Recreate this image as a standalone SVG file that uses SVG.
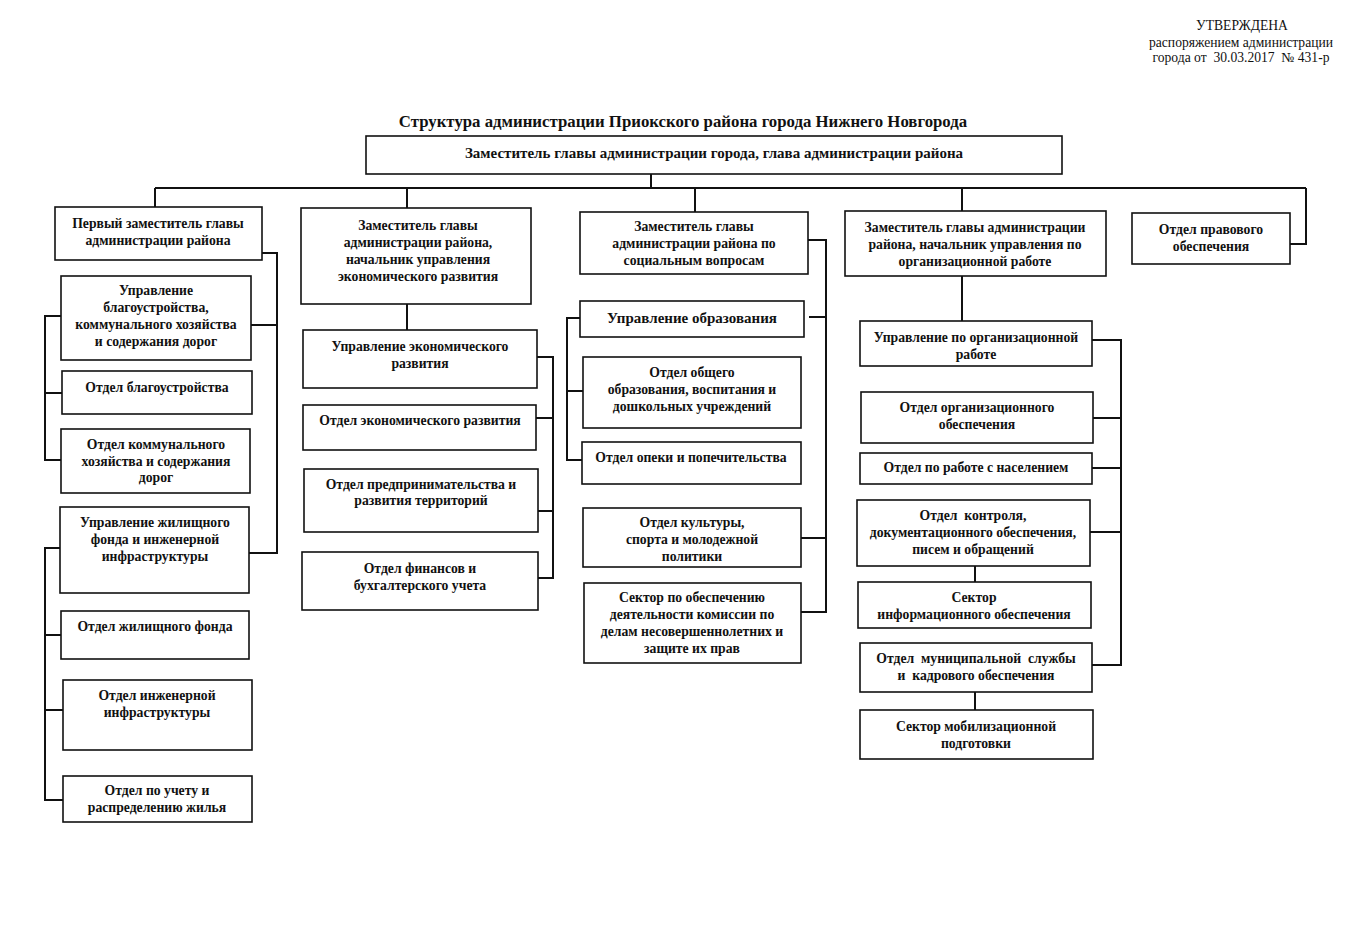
<svg xmlns="http://www.w3.org/2000/svg" width="1354" height="941" viewBox="0 0 1354 941">
<style>
.b{fill:#fff;stroke:#111;stroke-width:1.6}
.t{font-family:"Liberation Serif","Times New Roman",serif;font-weight:bold;font-size:13.7px;fill:#111;text-anchor:middle;dominant-baseline:central;white-space:pre}
.h{font-family:"Liberation Serif","Times New Roman",serif;font-size:13.6px;fill:#111;text-anchor:middle;dominant-baseline:central;white-space:pre}
.c{fill:none;stroke:#111;stroke-width:2}
</style>
<rect width="1354" height="941" fill="#fff"/>
<g id="header">
<text class="h" x="1242" y="25">УТВЕРЖДЕНА</text>
<text class="h" x="1241" y="42">распоряжением администрации</text>
<text class="h" x="1241" y="57">города от  30.03.2017  № 431-р</text>
</g>
<text id="title" x="683" y="121" style="font-family:'Liberation Serif','Times New Roman',serif;font-weight:bold;font-size:16.8px;fill:#111;text-anchor:middle;dominant-baseline:central">Структура администрации Приокского района города Нижнего Новгорода</text>
<g id="connectors">
<path class="c" d="M651 174V188M155 188H1306M155 188V208M407 188V208M695 188V212M962 188V211M1306 188V244H1290"/>
<path class="c" d="M262 253H277V553H249M251 325H277"/>
<path class="c" d="M61 316H45V460H61M45 393H62"/>
<path class="c" d="M60 548H45V800H63M45 635H61M45 710H63"/>
<path class="c" d="M407 304V330"/>
<path class="c" d="M537 357H553V578H538M536 418H553M538 511H553"/>
<path class="c" d="M808 240H826V612H801M809 317H826M801 538H826"/>
<path class="c" d="M580 318H567V460H582M567 391H583"/>
<path class="c" d="M962 276V321"/>
<path class="c" d="M1092 340H1121V665H1092M1093 418H1121M1092 468H1121M1090 532H1121"/>
<path class="c" d="M975 566V582M975 692V710"/>
</g>
<g id="n-top"><rect class="b" x="366" y="136" width="696" height="38"/><text class="t" x="714" y="153" style="font-size:15px">Заместитель главы администрации города, глава администрации района</text></g>
<g id="n-first"><rect class="b" x="55" y="207" width="207" height="53"/><text class="t" x="158" y="223">Первый заместитель главы</text><text class="t" x="158" y="240">администрации района</text></g>
<g id="n-econ-dep"><rect class="b" x="301" y="208" width="230" height="96"/><text class="t" x="418" y="225">Заместитель главы</text><text class="t" x="418" y="242">администрации района,</text><text class="t" x="418" y="259">начальник управления</text><text class="t" x="418" y="276">экономического развития</text></g>
<g id="n-soc-dep"><rect class="b" x="580" y="212" width="228" height="62"/><text class="t" x="694" y="226">Заместитель главы</text><text class="t" x="694" y="243">администрации района по</text><text class="t" x="694" y="260">социальным вопросам</text></g>
<g id="n-org-dep"><rect class="b" x="845" y="211" width="261" height="65"/><text class="t" x="975" y="227">Заместитель главы администрации</text><text class="t" x="975" y="244">района, начальник управления по</text><text class="t" x="975" y="261">организационной работе</text></g>
<g id="n-legal"><rect class="b" x="1132" y="213" width="158" height="51"/><text class="t" x="1211" y="229">Отдел правового</text><text class="t" x="1211" y="246">обеспечения</text></g>
<g id="n-blag-upr"><rect class="b" x="61" y="276" width="190" height="84"/><text class="t" x="156" y="290">Управление</text><text class="t" x="156" y="307">благоустройства,</text><text class="t" x="156" y="324">коммунального хозяйства</text><text class="t" x="156" y="341">и содержания дорог</text></g>
<g id="n-blag"><rect class="b" x="62" y="371" width="190" height="43"/><text class="t" x="157" y="387">Отдел благоустройства</text></g>
<g id="n-komm"><rect class="b" x="61" y="429" width="189" height="64"/><text class="t" x="156" y="444">Отдел коммунального</text><text class="t" x="156" y="461">хозяйства и содержания</text><text class="t" x="156" y="477">дорог</text></g>
<g id="n-zhil-upr"><rect class="b" x="60" y="507" width="189" height="86"/><text class="t" x="155" y="522">Управление жилищного</text><text class="t" x="155" y="539">фонда и инженерной</text><text class="t" x="155" y="556">инфраструктуры</text></g>
<g id="n-zhil"><rect class="b" x="61" y="611" width="188" height="48"/><text class="t" x="155" y="626">Отдел жилищного фонда</text></g>
<g id="n-inzh"><rect class="b" x="63" y="680" width="189" height="70"/><text class="t" x="157" y="695">Отдел инженерной</text><text class="t" x="157" y="712">инфраструктуры</text></g>
<g id="n-uchet"><rect class="b" x="63" y="776" width="189" height="46"/><text class="t" x="157" y="790">Отдел по учету и</text><text class="t" x="157" y="807">распределению жилья</text></g>
<g id="n-econ-upr"><rect class="b" x="303" y="330" width="234" height="58"/><text class="t" x="420" y="346">Управление экономического</text><text class="t" x="420" y="363">развития</text></g>
<g id="n-econ"><rect class="b" x="303" y="405" width="233" height="45"/><text class="t" x="420" y="420">Отдел экономического развития</text></g>
<g id="n-predpr"><rect class="b" x="304" y="469" width="234" height="63"/><text class="t" x="421" y="484">Отдел предпринимательства и</text><text class="t" x="421" y="500">развития территорий</text></g>
<g id="n-fin"><rect class="b" x="302" y="552" width="236" height="58"/><text class="t" x="420" y="568">Отдел финансов и</text><text class="t" x="420" y="585">бухгалтерского учета</text></g>
<g id="n-obr-upr"><rect class="b" x="580" y="301" width="224" height="36"/><text class="t" x="692" y="318" style="font-size:15px">Управление образования</text></g>
<g id="n-obr"><rect class="b" x="583" y="357" width="218" height="71"/><text class="t" x="692" y="372">Отдел общего</text><text class="t" x="692" y="389">образования, воспитания и</text><text class="t" x="692" y="406">дошкольных учреждений</text></g>
<g id="n-opeka"><rect class="b" x="582" y="442" width="219" height="42"/><text class="t" x="691" y="457">Отдел опеки и попечительства</text></g>
<g id="n-kult"><rect class="b" x="583" y="508" width="218" height="59"/><text class="t" x="692" y="522">Отдел культуры,</text><text class="t" x="692" y="539">спорта и молодежной</text><text class="t" x="692" y="556">политики</text></g>
<g id="n-kdn"><rect class="b" x="584" y="583" width="217" height="80"/><text class="t" x="692" y="597">Сектор по обеспечению</text><text class="t" x="692" y="614">деятельности комиссии по</text><text class="t" x="692" y="631">делам несовершеннолетних и</text><text class="t" x="692" y="648">защите их прав</text></g>
<g id="n-org-upr"><rect class="b" x="860" y="321" width="232" height="45"/><text class="t" x="976" y="337">Управление по организационной</text><text class="t" x="976" y="354">работе</text></g>
<g id="n-org"><rect class="b" x="861" y="392" width="232" height="51"/><text class="t" x="977" y="407">Отдел организационного</text><text class="t" x="977" y="424">обеспечения</text></g>
<g id="n-nasel"><rect class="b" x="860" y="453" width="232" height="31"/><text class="t" x="976" y="467">Отдел по работе с населением</text></g>
<g id="n-kontrol"><rect class="b" x="857" y="500" width="233" height="66"/><text class="t" x="973" y="515">Отдел  контроля,</text><text class="t" x="973" y="532">документационного обеспечения,</text><text class="t" x="973" y="549">писем и обращений</text></g>
<g id="n-inform"><rect class="b" x="858" y="582" width="233" height="46"/><text class="t" x="974" y="597">Сектор</text><text class="t" x="974" y="614">информационного обеспечения</text></g>
<g id="n-kadr"><rect class="b" x="860" y="643" width="232" height="49"/><text class="t" x="976" y="658">Отдел  муниципальной  службы</text><text class="t" x="976" y="675">и  кадрового обеспечения</text></g>
<g id="n-mob"><rect class="b" x="860" y="710" width="233" height="49"/><text class="t" x="976" y="726">Сектор мобилизационной</text><text class="t" x="976" y="743">подготовки</text></g>
</svg>
